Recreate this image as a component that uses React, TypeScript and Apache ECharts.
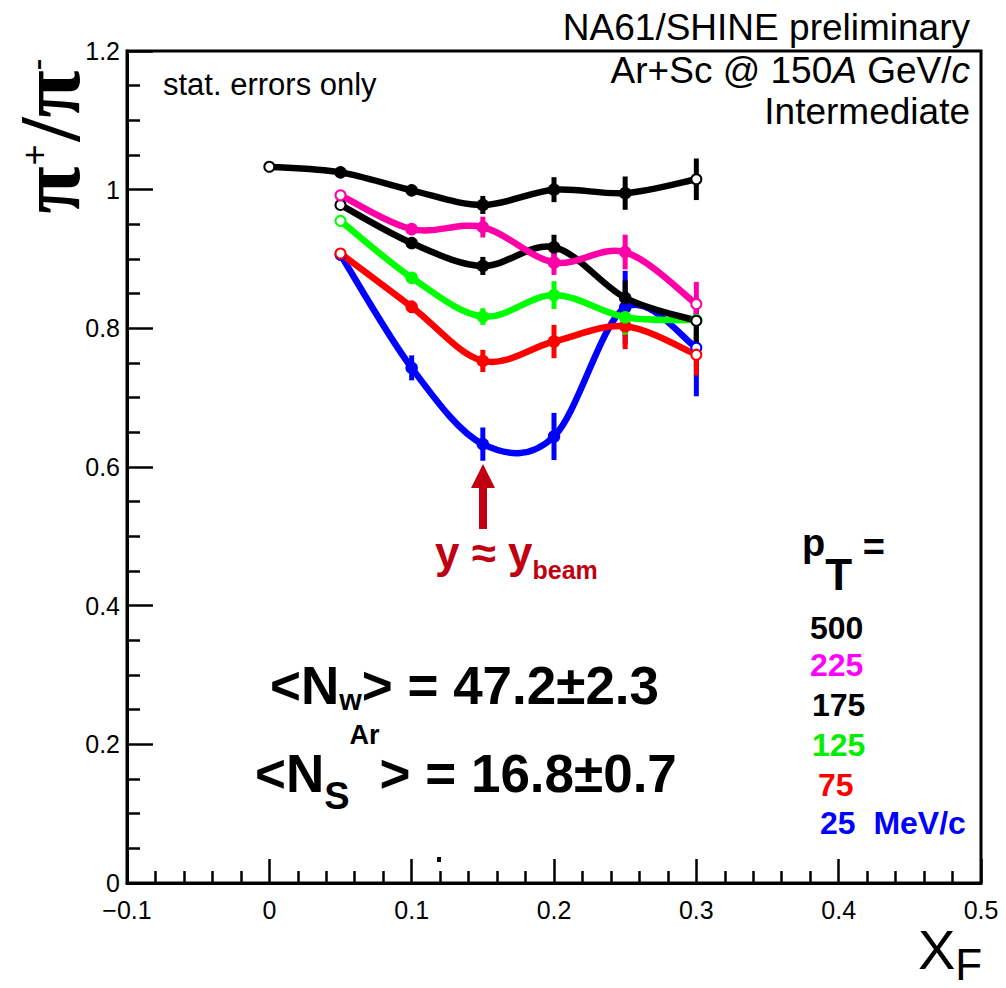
import React, { useEffect, useRef } from 'react';
import * as echarts from 'echarts';

// x_F positions of the measurements
const xFAll = [0, 0.05, 0.1, 0.15, 0.2, 0.25, 0.3];
const xFShort = [0.05, 0.1, 0.15, 0.2, 0.25, 0.3];

// pi+/pi- ratios and statistical errors per pT bin (MeV/c)
const pT500 = [1.033, 1.025, 0.999, 0.978, 1.0, 0.995, 1.015];
const err500 = [0.004, 0.006, 0.008, 0.013, 0.018, 0.024, 0.03];
const pT225 = [0.992, 0.943, 0.946, 0.895, 0.91, 0.835];
const err225 = [0.005, 0.008, 0.015, 0.018, 0.025, 0.032];
const pT175 = [0.978, 0.923, 0.89, 0.917, 0.844, 0.811];
const err175 = [0.005, 0.008, 0.013, 0.018, 0.025, 0.033];
const pT125 = [0.955, 0.873, 0.817, 0.848, 0.816, 0.812];
const err125 = [0.005, 0.008, 0.012, 0.02, 0.025, 0.03];
const pT75 = [0.908, 0.831, 0.753, 0.781, 0.803, 0.762];
const err75 = [0.005, 0.009, 0.016, 0.024, 0.033, 0.03];
const pT25 = [0.906, 0.743, 0.633, 0.644, 0.83, 0.772];
const err25 = [0.006, 0.018, 0.024, 0.034, 0.053, 0.07];

const legendLabels = ['500', '225', '175', '125', '75', '25  MeV/c'];
const legendColors = ['#000000', '#ff00ff', '#000000', '#00ee00', '#ff0000', '#0000ff'];

const SANS = '"Liberation Sans", Arial, Helvetica, sans-serif';
const SERIF = '"Liberation Serif", "Times New Roman", serif';
const DARKRED = '#c00010';

type Curve = { name: string; x: number[]; y: number[]; e: number[]; color: string };

// drawing order: bottom to top
const curves: Curve[] = [
  { name: '25', x: xFShort, y: pT25, e: err25, color: '#0000ff' },
  { name: '75', x: xFShort, y: pT75, e: err75, color: '#ff0000' },
  { name: '125', x: xFShort, y: pT125, e: err125, color: '#00ff00' },
  { name: '175', x: xFShort, y: pT175, e: err175, color: '#000000' },
  { name: '225', x: xFShort, y: pT225, e: err225, color: '#ff00a8' },
  { name: '500', x: xFAll, y: pT500, e: err500, color: '#000000' },
];

function buildSeries() {
  const out: any[] = [];
  curves.forEach((c) => {
    const n = c.x.length;
    // smooth curve through the measured points (Catmull-Rom segments, drawn in axis coordinates)
    out.push({
      type: 'custom',
      name: 'curve' + c.name,
      silent: true,
      data: c.x.map((x, i) => [x, c.y[i]]),
      renderItem: (params: any, api: any) => {
        const i = params.dataIndex;
        if (i >= n - 1) return { type: 'group', children: [] };
        const P = c.x.map((x, k) => api.coord([x, c.y[k]]));
        const p0 = P[Math.max(i - 1, 0)];
        const p1 = P[i];
        const p2 = P[i + 1];
        const p3 = P[Math.min(i + 2, n - 1)];
        return {
          type: 'bezierCurve',
          shape: {
            x1: p1[0], y1: p1[1],
            cpx1: p1[0] + (p2[0] - p0[0]) / 6, cpy1: p1[1] + (p2[1] - p0[1]) / 6,
            cpx2: p2[0] - (p3[0] - p1[0]) / 6, cpy2: p2[1] - (p3[1] - p1[1]) / 6,
            x2: p2[0], y2: p2[1],
          },
          style: { stroke: c.color, lineWidth: 6.5, fill: 'none', lineCap: 'round' },
        };
      },
    });
    out.push({
      type: 'scatter',
      name: 'pts' + c.name,
      silent: true,
      symbolSize: 10,
      itemStyle: { color: c.color, borderColor: c.color, borderWidth: 2.5, opacity: 1 },
      emphasis: { disabled: true },
      data: c.x.map((x, i) => ({
        value: [x, c.y[i]],
        symbol: i === 0 || i === n - 1 ? 'emptyCircle' : 'circle',
      })),
    });
    out.push({
      type: 'custom',
      name: 'err' + c.name,
      silent: true,
      data: c.x.map((x, i) => [x, c.y[i], c.e[i]]),
      renderItem: (params: any, api: any) => {
        const x = api.value(0);
        const y = api.value(1);
        const e = api.value(2);
        const p1 = api.coord([x, y - e]);
        const p2 = api.coord([x, y + e]);
        return {
          type: 'line',
          shape: { x1: p1[0], y1: p1[1], x2: p2[0], y2: p2[1] },
          style: { stroke: c.color, lineWidth: 5 },
        };
      },
    });
  });
  return out;
}

function buildGraphics() {
  const g: any[] = [];
  // top-right header
  g.push({
    type: 'text', x: 970, y: 27, silent: true,
    style: { text: 'NA61/SHINE preliminary', fontSize: 37, fontFamily: SANS, fill: '#000', align: 'right', verticalAlign: 'middle' },
  });
  g.push({
    type: 'text', x: 970, y: 70, silent: true,
    style: {
      text: 'Ar+Sc @ 150{i|A} GeV/{i|c}', fontSize: 37, fontFamily: SANS, fill: '#000', align: 'right', verticalAlign: 'middle',
      rich: { i: { fontSize: 37, fontFamily: SANS, fontStyle: 'italic', fill: '#000' } },
    },
  });
  g.push({
    type: 'text', x: 970, y: 111, silent: true,
    style: { text: 'Intermediate', fontSize: 37, fontFamily: SANS, fill: '#000', align: 'right', verticalAlign: 'middle' },
  });
  // stat errors
  g.push({
    type: 'text', x: 163, y: 84, silent: true,
    style: { text: 'stat. errors only', fontSize: 31, fontFamily: SANS, fill: '#000', align: 'left', verticalAlign: 'middle' },
  });
  // y axis title (rotated)
  g.push({
    type: 'text', x: 50, y: 136, rotation: Math.PI / 2, silent: true,
    style: {
      text: '{p|π}{s|+}{p|/}{p|π}{m|-}',
      align: 'center', verticalAlign: 'middle',
      rich: {
        p: { fontSize: 86, fontFamily: SERIF, fontWeight: 'bold', fill: '#000' },
        s: { fontSize: 36, fontFamily: SANS, fill: '#000', padding: [0, 3, 32, 1] },
        m: { fontSize: 36, fontFamily: SANS, fill: '#000', padding: [0, 0, 28, 0] },
      },
    },
  });
  // x axis title
  g.push({
    type: 'text', x: 918, y: 949, silent: true,
    style: {
      text: '{x|X}{f|F}', align: 'left', verticalAlign: 'middle',
      rich: {
        x: { fontSize: 56, fontFamily: SANS, fill: '#000' },
        f: { fontSize: 44, fontFamily: SANS, fill: '#000', padding: [30, 0, 0, 0] },
      },
    },
  });
  // arrow
  g.push({ type: 'rect', silent: true, shape: { x: 479, y: 486, width: 8, height: 43 }, style: { fill: DARKRED } });
  g.push({ type: 'polygon', silent: true, shape: { points: [[471, 488], [495, 488], [483, 464]] }, style: { fill: DARKRED } });
  g.push({
    type: 'text', x: 435, y: 552, silent: true,
    style: {
      text: '{m|y ≈ y}{s|beam}', align: 'left', verticalAlign: 'middle',
      rich: {
        m: { fontSize: 44, fontFamily: SANS, fontWeight: 'bold', fill: DARKRED },
        s: { fontSize: 25, fontFamily: SANS, fontWeight: 'bold', fill: DARKRED, padding: [35, 0, 0, 0] },
      },
    },
  });
  // participants
  g.push({
    type: 'text', x: 270, y: 685, silent: true,
    style: {
      text: '{m|<N}{s|w}{m|> = 47.2±2.3}', align: 'left', verticalAlign: 'middle',
      rich: {
        m: { fontSize: 53, fontFamily: SANS, fontWeight: 'bold', fill: '#000' },
        s: { fontSize: 29, fontFamily: SANS, fontWeight: 'bold', fill: '#000', padding: [29, 0, 0, 0] },
      },
    },
  });
  g.push({
    type: 'text', x: 255, y: 773, silent: true,
    style: {
      text: '{m|<N}{s|S}{u|Ar}{m|> = 16.8±0.7}', align: 'left', verticalAlign: 'middle',
      rich: {
        m: { fontSize: 53, fontFamily: SANS, fontWeight: 'bold', fill: '#000' },
        s: { fontSize: 38, fontFamily: SANS, fontWeight: 'bold', fill: '#000', padding: [46, 0, 0, 0] },
        u: { fontSize: 27, fontFamily: SANS, fontWeight: 'bold', fill: '#000', padding: [0, 0, 76, 0] },
      },
    },
  });
  // pT legend
  g.push({
    type: 'text', x: 802, y: 543, silent: true,
    style: {
      text: '{p|p}{t|T}{e| =}', align: 'left', verticalAlign: 'middle',
      rich: {
        p: { fontSize: 38, fontFamily: SANS, fontWeight: 'bold', fill: '#000' },
        t: { fontSize: 44, fontFamily: SANS, fontWeight: 'bold', fill: '#000', padding: [63, 0, 0, 0] },
        e: { fontSize: 38, fontFamily: SANS, fontWeight: 'bold', fill: '#000', padding: [8, 0, 0, 0] },
      },
    },
  });
  const legY = [628, 665, 705, 745, 785, 823];
  const legX = [810, 810, 812, 812, 818, 820];
  legendLabels.forEach((t, i) => {
    g.push({
      type: 'text', x: legX[i], y: legY[i], silent: true,
      style: { text: t, fontSize: 32, fontFamily: SANS, fontWeight: 'bold', fill: legendColors[i], align: 'left', verticalAlign: 'middle' },
    });
  });
  // small stray dot near the axis
  g.push({ type: 'rect', silent: true, shape: { x: 437, y: 857, width: 4, height: 5 }, style: { fill: '#000' } });
  return g;
}

export default function App() {
  const ref = useRef<HTMLDivElement>(null);
  useEffect(() => {
    if (!ref.current) return;
    const chart = echarts.init(ref.current, undefined, { renderer: 'svg' });
    chart.setOption({
      animation: false,
      backgroundColor: '#ffffff',
      grid: {
        left: 127, right: 25, top: 51, bottom: 105,
        show: true, borderColor: '#000', borderWidth: 3, backgroundColor: 'transparent',
        containLabel: false,
        outerBoundsMode: 'none',
      },
      xAxis: {
        type: 'value', min: -0.1, max: 0.5, interval: 0.1,
        axisLine: { show: true, onZero: false, lineStyle: { color: '#000', width: 3 } },
        axisTick: { show: true, inside: true, length: 24, lineStyle: { color: '#000', width: 2.5 } },
        minorTick: { show: true, splitNumber: 5, length: 12, lineStyle: { color: '#000', width: 2.5 } },
        splitLine: { show: false },
        minorSplitLine: { show: false },
        axisLabel: {
          show: true, margin: 14, fontSize: 25, fontFamily: SANS, color: '#000',
          showMinLabel: true, showMaxLabel: true,
          formatter: (v: number) => {
            const r = Number(v.toFixed(2));
            return r < 0 ? '\u2212' + String(Math.abs(r)) : String(r);
          },
        },
      },
      yAxis: {
        type: 'value', min: 0, max: 1.2, interval: 0.2,
        axisLine: { show: true, onZero: false, lineStyle: { color: '#000', width: 3 } },
        axisTick: { show: true, inside: true, length: 26, lineStyle: { color: '#000', width: 2.5 } },
        minorTick: { show: true, splitNumber: 4, length: 13, lineStyle: { color: '#000', width: 2.5 } },
        splitLine: { show: false },
        minorSplitLine: { show: false },
        axisLabel: {
          show: true, margin: 7, fontSize: 25, fontFamily: SANS, color: '#000',
          showMinLabel: true, showMaxLabel: true,
          formatter: (v: number) => String(Number(v.toFixed(2))),
        },
      },
      tooltip: { show: false },
      series: buildSeries(),
      graphic: buildGraphics(),
    });
    return () => chart.dispose();
  }, []);
  return (
    <div
      ref={ref}
      style={{ position: 'absolute', left: 0, top: 0, width: 1006, height: 988, background: '#fff' }}
    />
  );
}
